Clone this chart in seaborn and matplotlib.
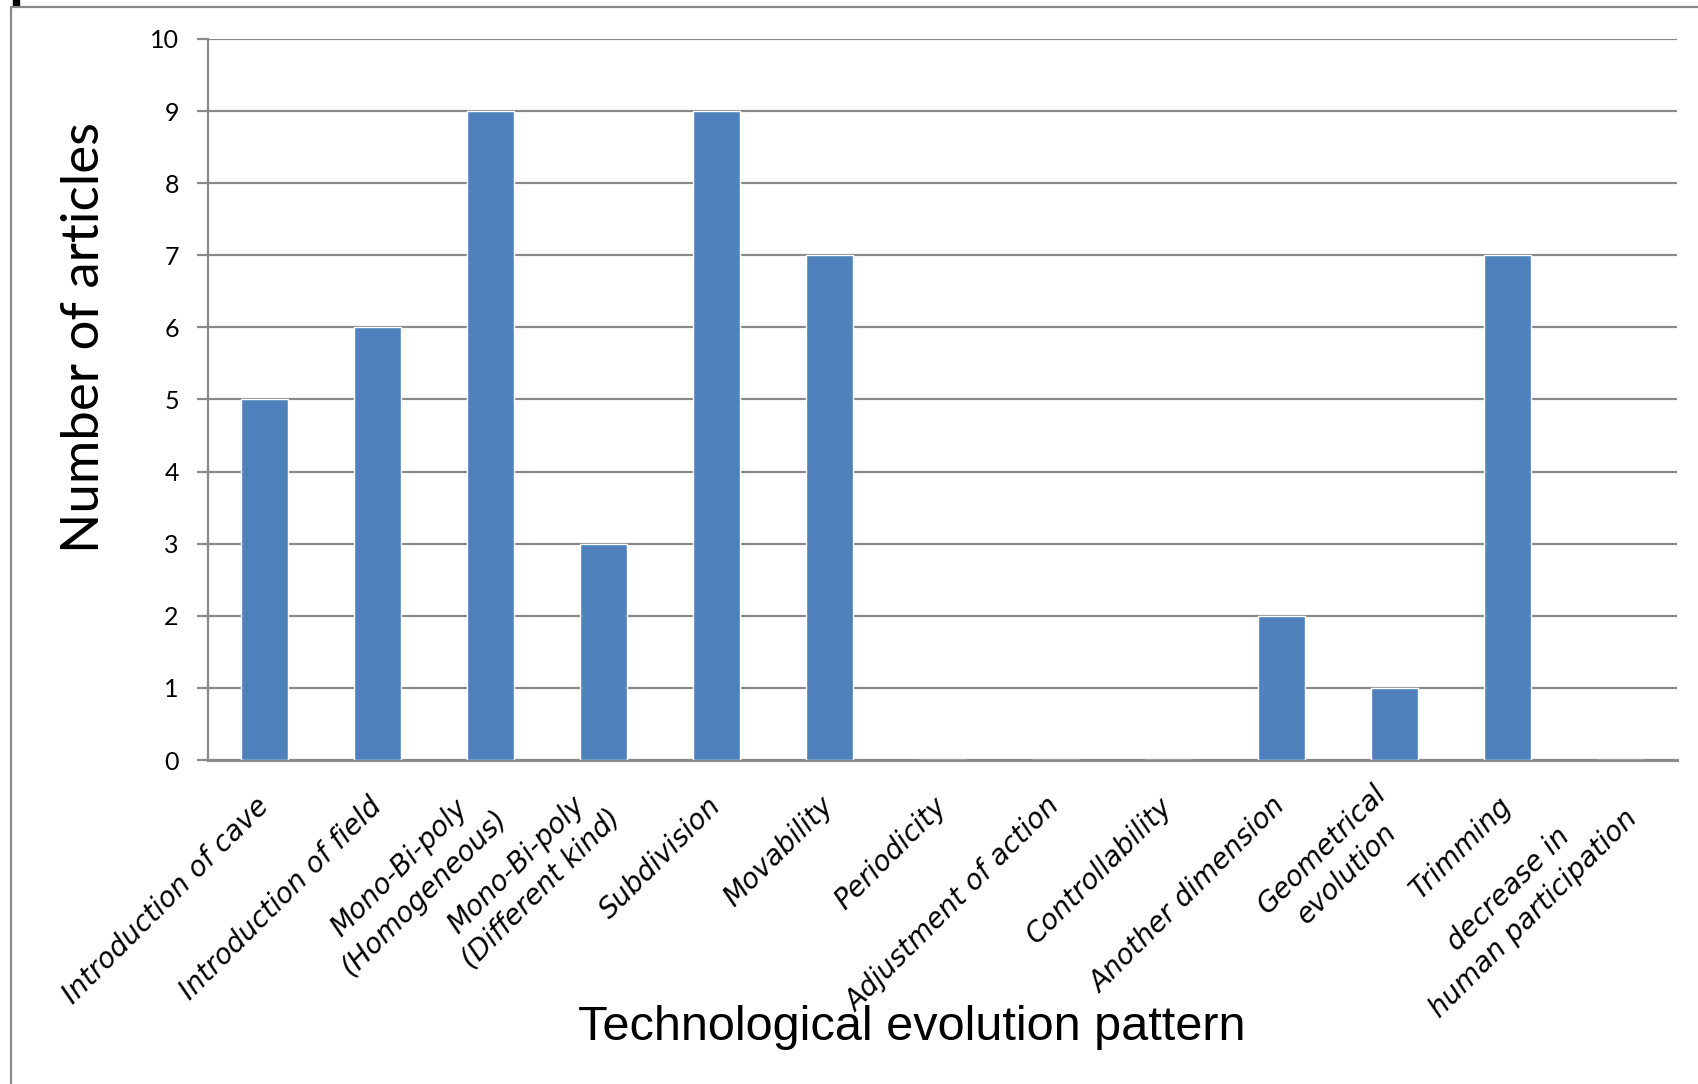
import matplotlib
matplotlib.use('Agg')
import matplotlib.pyplot as plt
import seaborn as sns
import pandas as pd
from matplotlib.lines import Line2D
from matplotlib.patches import Rectangle

# chart data
categories = [
    'Introduction of cave',
    'Introduction of field',
    'Mono-Bi-poly\n(Homogeneous)',
    'Mono-Bi-poly\n(Different kind)',
    'Subdivision',
    'Movability',
    'Periodicity',
    'Adjustment of action',
    'Controllability',
    'Another dimension',
    'Geometrical\nevolution',
    'Trimming',
    'decrease in\nhuman participation',
]
articles = [5, 6, 9, 3, 9, 7, 0, 0, 0, 2, 1, 7, 0]
y_ticks = list(range(0, 11))

df = pd.DataFrame({'pattern': categories, 'articles': articles})

sns.set_style('white')
grey = '#898989'

fig = plt.figure(figsize=(16.99, 10.84), dpi=100)
ax = fig.add_axes([208 / 1699, 1 - 760 / 1084, (1677 - 208) / 1699, (760 - 39) / 1084])

sns.barplot(data=df, x='pattern', y='articles', color='#4F81BD', width=0.41,
            saturation=1, ax=ax, zorder=3)

ax.set_xlim(-0.5, len(categories) - 0.5)
ax.set_ylim(0, 10)
ax.set_yticks(y_ticks)
ax.set_yticklabels([str(t) for t in y_ticks], family=['Lato', 'DejaVu Sans'], fontsize=18,
                   color='black')
ax.yaxis.grid(True, color=grey, linewidth=1.6, zorder=0)
ax.set_axisbelow(True)

ax.tick_params(axis='y', length=8, width=1.6, color=grey, pad=13, direction='out', left=True)
ax.tick_params(axis='x', length=0, pad=30)
ax.set_xticks(range(len(categories)))
ax.set_xticklabels(categories, rotation=45, ha='right', va='center', rotation_mode='anchor',
                   multialignment='center', linespacing=1.3, family=['DejaVu Sans'],
                   style='italic', fontsize=20, color='black')

for side in ['top', 'right']:
    ax.spines[side].set_visible(False)
ax.spines['left'].set_color(grey)
ax.spines['left'].set_linewidth(1.6)
ax.spines['bottom'].set_color(grey)
ax.spines['bottom'].set_linewidth(2.2)

ax.set_xlabel('')
ax.set_ylabel('')

fig.text(912 / 1699, 1 - 1027 / 1084, 'Technological evolution pattern', ha='center', va='center',
         fontsize=35, color='black', family=['Liberation Sans', 'DejaVu Sans'])
fig.text(85 / 1699, 1 - 338 / 1084, 'Number of articles', ha='center', va='center', rotation=90,
         fontsize=38, color='black', family=['Lato', 'DejaVu Sans'])

# outer frame and corner mark
fig.add_artist(Line2D([11 / 1699, 11 / 1699], [0, 1 - 7 / 1084], color=grey, linewidth=1.6,
                      transform=fig.transFigure))
fig.add_artist(Line2D([11 / 1699, 1], [1 - 7 / 1084, 1 - 7 / 1084], color=grey, linewidth=1.6,
                      transform=fig.transFigure))
fig.add_artist(Rectangle((13 / 1699, 1 - 6 / 1084), 6 / 1699, 6 / 1084, color='black',
                         transform=fig.transFigure))

fig.savefig('out.png', dpi=100)
